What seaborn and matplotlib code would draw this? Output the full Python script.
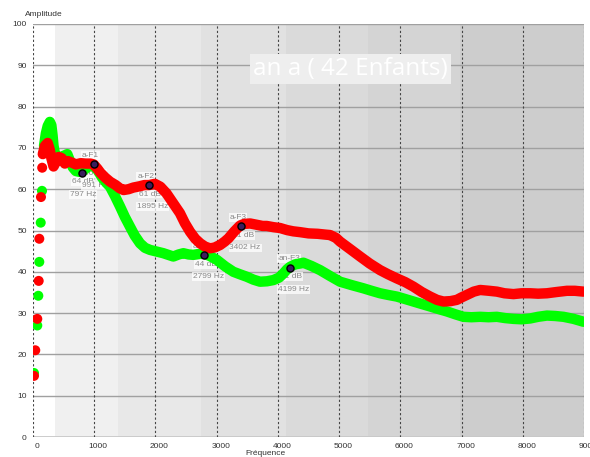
import matplotlib
matplotlib.use("Agg")
import matplotlib.pyplot as plt
import matplotlib.transforms as mtransforms
import seaborn as sns
import pandas as pd

# ---------------- data ----------------
red_dots_hz = [16, 37, 70, 93, 103, 130, 150]
red_dots_db = [14.8, 21.0, 28.6, 37.8, 48.0, 58.1, 65.2]
red_hz = [160, 195, 240, 275, 300, 335, 370, 420, 470, 520, 570, 640, 700, 780, 860, 940, 991,
          1050, 1100, 1180, 1260, 1350, 1420, 1480, 1560, 1640, 1740, 1820, 1895, 1990, 2080,
          2180, 2290, 2400, 2480, 2565, 2650, 2730, 2810, 2892, 2970, 3056, 3130, 3192, 3290,
          3382, 3450, 3546, 3650, 3750, 3818, 3930, 4036, 4150, 4250, 4363, 4500, 4650, 4780,
          4853, 4950, 5016, 5180, 5343, 5500, 5670, 5800, 5943, 6080, 6214, 6350, 6487, 6600,
          6705, 6820, 6922, 7000, 7086, 7200, 7304, 7450, 7577, 7700, 7848, 7980, 8121, 8250,
          8394, 8550, 8721, 8850, 8992]
red_db = [68.5, 70.5, 71.2, 69.5, 67.5, 65.5, 66.5, 67.8, 67.5, 66.2, 66.8, 66.4, 66.0, 66.3, 66.2,
          66.2, 66.0, 65.0, 64.0, 62.8, 61.8, 61.0, 60.2, 59.8, 60.0, 60.4, 60.7, 61.0, 61.0, 61.3,
          60.6, 59.0, 56.6, 54.2, 51.8, 49.7, 48.0, 46.9, 46.1, 45.7, 45.9, 46.5, 47.3, 48.1, 49.8,
          51.2, 51.6, 51.7, 51.4, 51.1, 51.1, 50.8, 50.6, 50.1, 49.8, 49.6, 49.3, 49.2, 49.0, 48.9,
          48.2, 47.3, 45.5, 43.7, 42.0, 40.4, 39.4, 38.4, 37.5, 36.4, 35.1, 34.0, 33.2, 32.8, 32.9,
          33.2, 33.8, 34.4, 35.2, 35.6, 35.4, 35.2, 34.8, 34.6, 34.8, 34.8, 34.7, 34.8, 35.1, 35.4,
          35.4, 35.2]

green_dots_hz = [16, 70, 87, 103, 126, 147]
green_dots_db = [15.5, 27.0, 34.2, 42.4, 51.9, 59.6]
green_hz = [180, 210, 240, 275, 300, 320, 335, 360, 400, 450, 520, 560, 600, 650, 700, 760, 797,
            860, 930, 991, 1060, 1130, 1200, 1258, 1340, 1422, 1500, 1585, 1660, 1748, 1830, 1912,
            2020, 2129, 2210, 2292, 2380, 2456, 2540, 2619, 2700, 2783, 2890, 3002, 3140, 3273,
            3380, 3492, 3600, 3709, 3820, 3927, 4020, 4090, 4150, 4199, 4280, 4363, 4417, 4550,
            4690, 4850, 5016, 5200, 5397, 5530, 5670, 5800, 5943, 6080, 6214, 6350, 6487, 6620,
            6760, 6900, 7031, 7160, 7304, 7440, 7577, 7710, 7848, 7980, 8121, 8250, 8394, 8530,
            8666, 8830, 8992]
green_db = [70.5, 73.5, 75.3, 76.3, 75.5, 73.0, 70.5, 68.5, 67.5, 67.8, 68.2, 68.5, 67.0, 65.3, 64.4,
            64.2, 64.2, 65.0, 65.8, 65.6, 64.5, 62.8, 61.5, 60.6, 58.3, 55.8, 53.3, 50.9, 48.8, 46.9,
            45.8, 45.3, 44.9, 44.5, 44.1, 43.7, 44.2, 44.5, 44.2, 44.1, 44.3, 44.5, 43.8, 42.9, 41.3,
            40.0, 39.4, 38.8, 38.1, 37.6, 37.7, 38.0, 38.6, 39.6, 40.6, 41.2, 41.8, 42.0, 42.2, 41.4,
            40.4, 39.0, 37.6, 36.8, 36.0, 35.4, 34.8, 34.4, 34.0, 33.4, 32.8, 32.2, 31.6, 31.0, 30.4,
            29.7, 29.1, 29.0, 29.1, 29.0, 29.1, 28.8, 28.6, 28.5, 28.7, 29.1, 29.4, 29.3, 29.1, 28.6,
            27.9]

formant_names = ["an-F1", "a-F1", "a-F2", "an-F2", "a-F3", "an-F3"]
formant_hz = [797, 991, 1895, 2799, 3402, 4199]
formant_db = [64, 66, 61, 44, 51, 41]

band_edges = [0, 352, 1384, 2745, 4129, 5480, 6967, 9000]
band_colors = ["#ffffff", "#f0f0f0", "#e8e8e8", "#e1e1e1", "#dadada", "#d4d4d4", "#cdcdcd"]

x_ticks = [0, 1000, 2000, 3000, 4000, 5000, 6000, 7000, 8000, 9000]
y_ticks = [0, 10, 20, 30, 40, 50, 60, 70, 80, 90, 100]
title_text = "an a ( 42 Enfants)"

# ---------------- figure ----------------
sns.set_style("white")
plt.rcParams['font.family'] = ['Liberation Sans', 'DejaVu Sans']

fig = plt.figure(figsize=(5.9, 4.57), dpi=100)
ax = fig.add_axes([33 / 590, 20 / 457, 551 / 590, 413 / 457])
ax.set_xlim(0, 9000)
ax.set_ylim(0, 100)

for i in range(len(band_colors)):
    ax.axvspan(band_edges[i], band_edges[i + 1], color=band_colors[i], zorder=0, lw=0)

for y in y_ticks[1:]:
    ax.axhline(y, color="#a0a0a0", lw=1.0, zorder=1)
ax.axhline(0, color="#c8c8c8", lw=2.0, zorder=1)
for x in x_ticks:
    ax.axvline(x, color="#444444", lw=0.8, ls=(0, (2, 2)), zorder=1)

for s in ax.spines.values():
    s.set_visible(False)

ax.set_xticks(x_ticks)
ax.set_yticks(y_ticks)
ax.set_xticklabels([str(v) for v in x_ticks])
ax.set_yticklabels([str(v) for v in y_ticks])
ax.tick_params(axis="both", labelsize=6, colors="#333333", length=3, width=0.8, pad=1.5)
ax.tick_params(axis="x", color="#888888")
ax.tick_params(axis="y", color="#888888")
off = mtransforms.ScaledTranslation(4 / 100, 0, fig.dpi_scale_trans)
for lab in ax.get_xticklabels():
    lab.set_transform(lab.get_transform() + off)

fig.text(265 / 590, 1 - 453.5 / 457, "Fréquence", ha="center", va="center", fontsize=6, color="#333333")
fig.text(25 / 590, 1 - 14 / 457, "Amplitude", ha="left", va="center", fontsize=6, color="#333333")

# formant labels (under the curves)
label_kw = dict(fontsize=6, color="#8a8a8a", ha="left", va="center", zorder=2,
                bbox=dict(facecolor="white", edgecolor="none", alpha=0.75, pad=0.6))
for name, hz, db in zip(formant_names, formant_hz, formant_db):
    ax.annotate(name, (hz, db), xytext=(-8.5, 6.5), textcoords="offset points", **label_kw)
    ax.annotate(f"{db} dB", (hz, db), xytext=(-7, -6.5), textcoords="offset points", **label_kw)
    ax.annotate(f"{hz} Hz", (hz, db), xytext=(-8.5, -15.5), textcoords="offset points", **label_kw)

green_df = pd.DataFrame({"hz": green_hz, "db": green_db})
red_df = pd.DataFrame({"hz": red_hz, "db": red_db})
green_dots = pd.DataFrame({"hz": green_dots_hz, "db": green_dots_db})
red_dots = pd.DataFrame({"hz": red_dots_hz, "db": red_dots_db})
form_df = pd.DataFrame({"hz": formant_hz, "db": formant_db})

sns.lineplot(data=green_df, x="hz", y="db", sort=False, color="#00ff00", lw=7.5,
             solid_capstyle="round", solid_joinstyle="round", ax=ax, zorder=3)
sns.scatterplot(data=green_dots, x="hz", y="db", color="#00ff00", s=52, edgecolor="none",
                ax=ax, zorder=3)
sns.lineplot(data=red_df, x="hz", y="db", sort=False, color="#ff0000", lw=7.5,
             solid_capstyle="round", solid_joinstyle="round", ax=ax, zorder=4)
sns.scatterplot(data=red_dots, x="hz", y="db", color="#ff0000", s=52, edgecolor="none",
                ax=ax, zorder=4)
sns.scatterplot(data=form_df, x="hz", y="db", color="#3b1d5e", s=26, edgecolor="black",
                linewidth=1.0, ax=ax, zorder=5)

ax.set_xlabel("")
ax.set_ylabel("")

fig.text(350.5 / 590, 1 - 69 / 457, title_text, ha="center", va="center", fontsize=17.5,
         family=["Open Sans", "DejaVu Sans"], color="white",
         bbox=dict(facecolor="#eeeeee", edgecolor="none", pad=2.5))

fig.savefig("out.png", dpi=100)
